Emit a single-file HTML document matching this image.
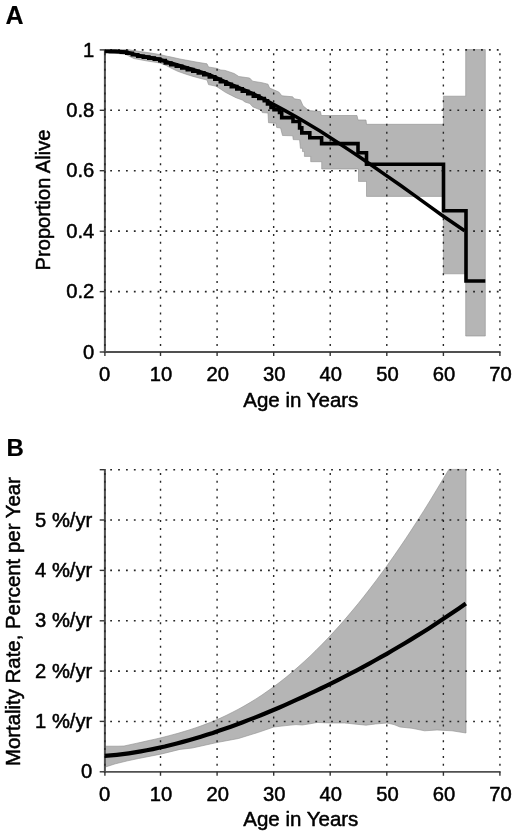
<!DOCTYPE html>
<html><head><meta charset="utf-8"><title>Figure</title>
<style>html,body{margin:0;padding:0;background:#fff}svg{display:block}text{font-family:"Liberation Sans",sans-serif;fill:#000;stroke:#000;stroke-width:0.5px;stroke-linejoin:round}</style></head><body>
<svg width="520" height="835" viewBox="0 0 520 835">
<rect width="520" height="835" fill="#fff"/>
<polygon points="105.0,49.6 127.7,49.6 140.0,51.5 150.8,53.0 160.0,54.6 167.7,56.4 170.0,56.8 180.0,59.0 185.4,60.0 196.0,62.0 207.0,63.8 208.5,67.0 216.0,68.2 220.8,70.0 225.0,70.4 234.2,73.5 238.8,76.5 249.6,78.0 252.7,81.2 262.0,82.7 268.0,84.2 269.6,88.0 278.8,92.0 281.9,95.8 292.7,96.8 294.2,98.8 300.4,99.8 303.0,105.8 308.8,110.6 320.4,111.5 321.3,115.5 357.0,115.5 358.0,120.0 366.0,120.0 366.5,124.3 443.4,124.3 443.4,96.2 465.7,96.2 465.7,49.6 485.3,49.6 485.3,336.0 465.7,336.0 465.7,273.8 443.4,273.8 443.4,196.4 366.5,196.4 366.5,181.4 358.5,181.4 358.5,169.0 321.7,169.0 321.7,161.7 310.7,161.7 310.7,156.4 304.4,156.4 304.4,151.6 302.5,151.6 302.5,148.3 300.4,148.3 299.6,139.8 293.2,139.6 292.8,135.8 282.5,135.5 280.6,128.0 276.7,127.5 275.8,123.2 268.5,122.7 268.0,113.0 262.3,112.6 261.3,110.2 257.5,108.8 252.7,106.8 249.8,103.5 245.0,102.0 242.3,100.0 236.0,97.7 231.5,95.4 225.4,92.3 220.8,89.2 216.0,86.2 208.5,84.6 207.0,80.0 200.8,78.5 193.0,76.4 185.4,74.0 177.7,71.3 170.0,67.6 166.0,65.4 160.0,63.0 146.0,60.8 133.8,58.5 126.0,54.6 118.0,53.5 105.0,52.0" fill="#b5b5b5" stroke="#8f8f8f" stroke-width="0.6"/>
<line x1="160.52" y1="345.95" x2="160.52" y2="48.90" stroke="#262626" stroke-width="1.4" stroke-dasharray="2.0 5.86" fill="none"/>
<line x1="217.09" y1="345.95" x2="217.09" y2="48.90" stroke="#262626" stroke-width="1.4" stroke-dasharray="2.0 5.86" fill="none"/>
<line x1="273.66" y1="345.95" x2="273.66" y2="48.90" stroke="#262626" stroke-width="1.4" stroke-dasharray="2.0 5.86" fill="none"/>
<line x1="330.23" y1="345.95" x2="330.23" y2="48.90" stroke="#262626" stroke-width="1.4" stroke-dasharray="2.0 5.86" fill="none"/>
<line x1="386.80" y1="345.95" x2="386.80" y2="48.90" stroke="#262626" stroke-width="1.4" stroke-dasharray="2.0 5.86" fill="none"/>
<line x1="443.37" y1="345.95" x2="443.37" y2="48.90" stroke="#262626" stroke-width="1.4" stroke-dasharray="2.0 5.86" fill="none"/>
<line x1="499.94" y1="345.95" x2="499.94" y2="48.90" stroke="#262626" stroke-width="1.4" stroke-dasharray="2.0 5.86" fill="none"/>
<line x1="110.20" y1="291.58" x2="501.00" y2="291.58" stroke="#262626" stroke-width="1.6" stroke-dasharray="1.8 6.09" fill="none"/>
<line x1="110.20" y1="231.16" x2="501.00" y2="231.16" stroke="#262626" stroke-width="1.6" stroke-dasharray="1.8 6.09" fill="none"/>
<line x1="110.20" y1="170.74" x2="501.00" y2="170.74" stroke="#262626" stroke-width="1.6" stroke-dasharray="1.8 6.09" fill="none"/>
<line x1="110.20" y1="110.32" x2="501.00" y2="110.32" stroke="#262626" stroke-width="1.6" stroke-dasharray="1.8 6.09" fill="none"/>
<line x1="110.20" y1="49.90" x2="501.00" y2="49.90" stroke="#262626" stroke-width="1.6" stroke-dasharray="1.8 6.09" fill="none"/>
<line x1="104.9" y1="49.2" x2="104.9" y2="352.9" stroke="#505050" stroke-width="2" fill="none"/>
<line x1="104.90" y1="345.95" x2="104.90" y2="48.90" stroke="#262626" stroke-width="1.4" stroke-dasharray="2.0 5.86" fill="none"/>
<line x1="103.9" y1="352.0" x2="500.6" y2="352.0" stroke="#505050" stroke-width="1.8" fill="none"/>
<line x1="104.9" y1="352.0" x2="104.9" y2="356.0" stroke="#333" stroke-width="1.4" fill="none"/>
<text x="104.5" y="381.3" font-size="20.2" text-anchor="middle">0</text>
<line x1="160.5" y1="352.0" x2="160.5" y2="356.0" stroke="#333" stroke-width="1.4" fill="none"/>
<text x="161.1" y="381.3" font-size="20.2" text-anchor="middle">10</text>
<line x1="217.1" y1="352.0" x2="217.1" y2="356.0" stroke="#333" stroke-width="1.4" fill="none"/>
<text x="217.7" y="381.3" font-size="20.2" text-anchor="middle">20</text>
<line x1="273.7" y1="352.0" x2="273.7" y2="356.0" stroke="#333" stroke-width="1.4" fill="none"/>
<text x="274.3" y="381.3" font-size="20.2" text-anchor="middle">30</text>
<line x1="330.2" y1="352.0" x2="330.2" y2="356.0" stroke="#333" stroke-width="1.4" fill="none"/>
<text x="330.8" y="381.3" font-size="20.2" text-anchor="middle">40</text>
<line x1="386.8" y1="352.0" x2="386.8" y2="356.0" stroke="#333" stroke-width="1.4" fill="none"/>
<text x="387.4" y="381.3" font-size="20.2" text-anchor="middle">50</text>
<line x1="443.4" y1="352.0" x2="443.4" y2="356.0" stroke="#333" stroke-width="1.4" fill="none"/>
<text x="444.0" y="381.3" font-size="20.2" text-anchor="middle">60</text>
<line x1="499.9" y1="352.0" x2="499.9" y2="356.0" stroke="#333" stroke-width="1.4" fill="none"/>
<text x="500.5" y="381.3" font-size="20.2" text-anchor="middle">70</text>
<line x1="99.7" y1="352.0" x2="104.5" y2="352.0" stroke="#333" stroke-width="1.4" fill="none"/>
<text x="94.3" y="358.6" font-size="20.2" text-anchor="end">0</text>
<line x1="99.7" y1="291.6" x2="104.5" y2="291.6" stroke="#333" stroke-width="1.4" fill="none"/>
<text x="94.3" y="298.2" font-size="20.2" text-anchor="end">0.2</text>
<line x1="99.7" y1="231.2" x2="104.5" y2="231.2" stroke="#333" stroke-width="1.4" fill="none"/>
<text x="94.3" y="237.8" font-size="20.2" text-anchor="end">0.4</text>
<line x1="99.7" y1="170.7" x2="104.5" y2="170.7" stroke="#333" stroke-width="1.4" fill="none"/>
<text x="94.3" y="177.3" font-size="20.2" text-anchor="end">0.6</text>
<line x1="99.7" y1="110.3" x2="104.5" y2="110.3" stroke="#333" stroke-width="1.4" fill="none"/>
<text x="94.3" y="116.9" font-size="20.2" text-anchor="end">0.8</text>
<line x1="99.7" y1="49.9" x2="104.5" y2="49.9" stroke="#333" stroke-width="1.4" fill="none"/>
<text x="94.3" y="56.5" font-size="20.2" text-anchor="end">1</text>
<polyline points="104.8,51.2 115.0,51.3 126.0,52.0 132.0,53.6 138.5,55.5 150.0,57.5 160.0,59.4 170.0,62.8 180.0,65.7 190.0,68.7 200.0,71.7 208.5,74.5 217.7,78.4 231.5,84.6 240.0,88.2 250.0,92.4 260.0,97.0 272.0,103.5 285.0,110.6 297.0,117.2 310.0,125.0 320.0,131.0 330.0,137.5 340.0,144.0 348.5,149.6 360.0,157.2 372.0,165.5 385.0,174.6 400.0,185.0 412.0,193.7 430.0,206.7 443.0,216.0 464.6,230.8" fill="none" stroke="#000" stroke-width="3.5" stroke-linejoin="miter"/>
<polyline points="104.8,51.5 110.3,51.5 110.3,51.6 115.8,51.6 115.8,51.8 121.3,51.8 121.3,52.2 126.8,52.2 126.8,53.2 132.3,53.2 132.3,54.8 137.8,54.8 137.8,56.2 143.3,56.2 143.3,57.1 148.8,57.1 148.8,58.1 154.3,58.1 154.3,59.1 159.8,59.1 159.8,60.6 165.3,60.6 165.3,63.0 170.8,63.0 170.8,64.7 176.3,64.7 176.3,66.3 181.8,66.3 181.8,68.0 187.3,68.0 187.3,69.6 192.8,69.6 192.8,71.3 198.3,71.3 198.3,72.9 203.8,72.9 203.8,74.8 209.3,74.8 209.3,76.9 214.8,76.9 214.8,79.2 220.3,79.2 220.3,81.7 225.8,81.7 225.8,84.2 231.3,84.2 231.3,86.6 236.8,86.6 236.8,88.9 242.3,88.9 242.3,91.2 247.8,91.2 247.8,93.6 253.3,93.6 253.3,96.1 258.8,96.1 258.8,98.5 264.3,98.5 264.3,100.7 267.5,100.7 267.5,104.0 271.0,104.0 271.0,107.5 274.0,107.5 274.0,109.8 279.5,109.8 279.5,112.4 281.7,112.4 281.7,117.6 293.0,117.6 293.0,121.5 299.6,121.5 299.6,127.9 301.8,127.9 301.8,132.9 309.8,132.9 309.8,137.7 321.6,137.7 321.6,143.6 358.0,143.6 358.0,152.7 366.5,152.7 366.5,164.3 443.5,164.3 443.5,210.8 466.0,210.8 466.0,281.0 485.3,281.0" fill="none" stroke="#000" stroke-width="3.6" stroke-linejoin="miter"/>
<text transform="translate(49.7 200.0) rotate(-90)" font-size="20.1" text-anchor="middle">Proportion Alive</text>
<text x="300.8" y="406.8" font-size="20.5" text-anchor="middle">Age in Years</text>
<text x="5.5" y="23.7" font-size="25" font-weight="bold" style="stroke-width:0.15px">A</text>
<polygon points="104.8,746.2 118.0,746.2 124.0,746.0 130.0,744.7 136.0,743.4 142.0,742.1 148.0,740.7 154.0,739.4 160.0,738.0 166.0,736.5 172.0,734.9 178.0,733.3 184.0,731.5 190.0,729.7 196.0,727.7 202.0,725.6 208.0,723.3 214.0,720.9 220.0,718.3 226.0,715.5 232.0,712.5 238.0,709.4 244.0,706.1 250.0,702.6 256.0,698.9 262.0,695.0 268.0,690.8 274.0,686.5 280.0,682.0 286.0,677.3 292.0,672.3 298.0,667.1 304.0,661.7 310.0,656.2 316.0,650.3 322.0,644.3 328.0,638.1 334.0,631.6 340.0,625.0 346.0,618.1 352.0,611.0 358.0,603.8 364.0,596.3 370.0,588.6 376.0,580.7 382.0,572.6 388.0,564.3 394.0,555.8 400.0,547.1 406.0,538.2 412.0,529.1 418.0,519.8 424.0,510.4 430.0,500.7 436.0,490.8 442.0,480.8 448.9,469.4 466.0,469.4 466.0,733.0 452.0,730.8 437.0,730.0 424.6,730.8 412.0,728.3 400.0,727.0 394.0,724.6 386.8,723.0 375.4,724.0 366.0,725.2 354.0,724.0 344.6,723.0 330.0,723.0 317.0,722.5 310.0,723.8 302.3,725.0 296.0,724.6 286.0,725.6 273.8,727.0 258.5,732.3 238.5,738.5 217.0,742.5 192.3,748.0 180.0,749.4 160.6,754.2 138.5,758.5 127.7,760.8 115.4,763.8 104.8,767.2" fill="#b5b5b5" stroke="#8f8f8f" stroke-width="0.6"/>
<line x1="160.52" y1="765.75" x2="160.52" y2="468.70" stroke="#262626" stroke-width="1.4" stroke-dasharray="2.0 5.86" fill="none"/>
<line x1="217.09" y1="765.75" x2="217.09" y2="468.70" stroke="#262626" stroke-width="1.4" stroke-dasharray="2.0 5.86" fill="none"/>
<line x1="273.66" y1="765.75" x2="273.66" y2="468.70" stroke="#262626" stroke-width="1.4" stroke-dasharray="2.0 5.86" fill="none"/>
<line x1="330.23" y1="765.75" x2="330.23" y2="468.70" stroke="#262626" stroke-width="1.4" stroke-dasharray="2.0 5.86" fill="none"/>
<line x1="386.80" y1="765.75" x2="386.80" y2="468.70" stroke="#262626" stroke-width="1.4" stroke-dasharray="2.0 5.86" fill="none"/>
<line x1="443.37" y1="765.75" x2="443.37" y2="468.70" stroke="#262626" stroke-width="1.4" stroke-dasharray="2.0 5.86" fill="none"/>
<line x1="499.94" y1="765.75" x2="499.94" y2="468.70" stroke="#262626" stroke-width="1.4" stroke-dasharray="2.0 5.86" fill="none"/>
<line x1="110.20" y1="721.45" x2="501.00" y2="721.45" stroke="#262626" stroke-width="1.6" stroke-dasharray="1.8 6.09" fill="none"/>
<line x1="110.20" y1="671.10" x2="501.00" y2="671.10" stroke="#262626" stroke-width="1.6" stroke-dasharray="1.8 6.09" fill="none"/>
<line x1="110.20" y1="620.75" x2="501.00" y2="620.75" stroke="#262626" stroke-width="1.6" stroke-dasharray="1.8 6.09" fill="none"/>
<line x1="110.20" y1="570.40" x2="501.00" y2="570.40" stroke="#262626" stroke-width="1.6" stroke-dasharray="1.8 6.09" fill="none"/>
<line x1="110.20" y1="520.05" x2="501.00" y2="520.05" stroke="#262626" stroke-width="1.6" stroke-dasharray="1.8 6.09" fill="none"/>
<line x1="110.20" y1="469.70" x2="501.00" y2="469.70" stroke="#262626" stroke-width="1.6" stroke-dasharray="1.8 6.09" fill="none"/>
<line x1="104.9" y1="469.0" x2="104.9" y2="772.7" stroke="#505050" stroke-width="2" fill="none"/>
<line x1="104.90" y1="765.75" x2="104.90" y2="468.70" stroke="#262626" stroke-width="1.4" stroke-dasharray="2.0 5.86" fill="none"/>
<line x1="103.9" y1="771.8" x2="500.6" y2="771.8" stroke="#505050" stroke-width="1.8" fill="none"/>
<line x1="104.9" y1="771.8" x2="104.9" y2="775.8" stroke="#333" stroke-width="1.4" fill="none"/>
<text x="104.5" y="800.6" font-size="20.2" text-anchor="middle">0</text>
<line x1="160.5" y1="771.8" x2="160.5" y2="775.8" stroke="#333" stroke-width="1.4" fill="none"/>
<text x="161.1" y="800.6" font-size="20.2" text-anchor="middle">10</text>
<line x1="217.1" y1="771.8" x2="217.1" y2="775.8" stroke="#333" stroke-width="1.4" fill="none"/>
<text x="217.7" y="800.6" font-size="20.2" text-anchor="middle">20</text>
<line x1="273.7" y1="771.8" x2="273.7" y2="775.8" stroke="#333" stroke-width="1.4" fill="none"/>
<text x="274.3" y="800.6" font-size="20.2" text-anchor="middle">30</text>
<line x1="330.2" y1="771.8" x2="330.2" y2="775.8" stroke="#333" stroke-width="1.4" fill="none"/>
<text x="330.8" y="800.6" font-size="20.2" text-anchor="middle">40</text>
<line x1="386.8" y1="771.8" x2="386.8" y2="775.8" stroke="#333" stroke-width="1.4" fill="none"/>
<text x="387.4" y="800.6" font-size="20.2" text-anchor="middle">50</text>
<line x1="443.4" y1="771.8" x2="443.4" y2="775.8" stroke="#333" stroke-width="1.4" fill="none"/>
<text x="444.0" y="800.6" font-size="20.2" text-anchor="middle">60</text>
<line x1="499.9" y1="771.8" x2="499.9" y2="775.8" stroke="#333" stroke-width="1.4" fill="none"/>
<text x="500.5" y="800.6" font-size="20.2" text-anchor="middle">70</text>
<line x1="99.7" y1="771.8" x2="104.5" y2="771.8" stroke="#333" stroke-width="1.4" fill="none"/>
<text x="92.3" y="778.4" font-size="20.2" text-anchor="end">0</text>
<line x1="99.7" y1="721.4" x2="104.5" y2="721.4" stroke="#333" stroke-width="1.4" fill="none"/>
<text x="92.3" y="728.0" font-size="20.2" text-anchor="end">1 %/yr</text>
<line x1="99.7" y1="671.1" x2="104.5" y2="671.1" stroke="#333" stroke-width="1.4" fill="none"/>
<text x="92.3" y="677.7" font-size="20.2" text-anchor="end">2 %/yr</text>
<line x1="99.7" y1="620.8" x2="104.5" y2="620.8" stroke="#333" stroke-width="1.4" fill="none"/>
<text x="92.3" y="627.4" font-size="20.2" text-anchor="end">3 %/yr</text>
<line x1="99.7" y1="570.4" x2="104.5" y2="570.4" stroke="#333" stroke-width="1.4" fill="none"/>
<text x="92.3" y="577.0" font-size="20.2" text-anchor="end">4 %/yr</text>
<line x1="99.7" y1="520.0" x2="104.5" y2="520.0" stroke="#333" stroke-width="1.4" fill="none"/>
<text x="92.3" y="526.6" font-size="20.2" text-anchor="end">5 %/yr</text>
<line x1="99.7" y1="469.7" x2="104.5" y2="469.7" stroke="#333" stroke-width="1.4" fill="none"/>
<text x="92.3" y="476.3" font-size="20.2" text-anchor="end"></text>
<polyline points="104.8,755.9 110.8,755.4 116.8,754.8 122.8,754.1 128.8,753.3 134.8,752.4 140.8,751.4 146.8,750.3 152.8,749.1 158.8,747.8 164.8,746.5 170.8,745.0 176.8,743.5 182.8,741.9 188.8,740.2 194.8,738.5 200.8,736.7 206.8,734.8 212.8,732.9 218.8,730.8 224.8,728.8 230.8,726.7 236.8,724.5 242.8,722.2 248.8,719.9 254.8,717.6 260.8,715.2 266.8,712.7 272.8,710.2 278.8,707.7 284.8,705.1 290.8,702.4 296.8,699.7 302.8,697.0 308.8,694.2 314.8,691.4 320.8,688.5 326.8,685.6 332.8,682.6 338.8,679.6 344.8,676.5 350.8,673.4 356.8,670.3 362.8,667.1 368.8,663.8 374.8,660.5 380.8,657.2 386.8,653.8 392.8,650.3 398.8,646.8 404.8,643.2 410.8,639.6 416.8,635.9 422.8,632.2 428.8,628.4 434.8,624.5 440.8,620.6 446.8,616.6 452.8,612.5 458.8,608.4 464.8,604.2 465.8,603.5" fill="none" stroke="#000" stroke-width="4.2" stroke-linejoin="miter"/>
<text transform="translate(19.8 621.6) rotate(-90)" font-size="20.4" text-anchor="middle">Mortality Rate, Percent per Year</text>
<text x="300.8" y="826.0" font-size="20.5" text-anchor="middle">Age in Years</text>
<text x="6.4" y="455.5" font-size="24" font-weight="bold" style="stroke-width:0.15px">B</text>
</svg></body></html>
